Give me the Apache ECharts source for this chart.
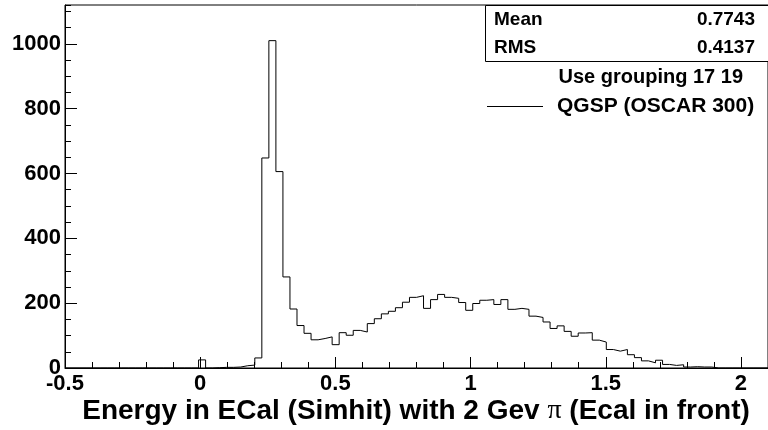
<!DOCTYPE html>
<html>
<head>
<meta charset="utf-8">
<script src="https://cdn.jsdelivr.net/npm/echarts@6/dist/echarts.min.js"></script>
<style>
  html, body { margin: 0; padding: 0; background: #fff; }
  #chart { width: 768px; height: 430px; }
</style>
</head>
<body>
<div id="chart"></div>
<script>
// Histogram binning: 100 bins from -0.5 to 2.1
const binLow = -0.5;
const binHigh = 2.1;
const binWidth = 0.026;

// Entries per bin
const counts = [
  0, 0, 0, 0, 0, 0, 0, 0, 0, 0,
  0, 0, 0, 0, 0, 0, 0, 0, 0, 25,
  0, 1, 2, 2, 3, 7, 9, 31, 648, 1010,
  606, 281, 182, 131, 107, 87, 91, 96, 72, 109,
  101, 116, 111, 137, 152, 167, 175, 186, 203, 218,
  223, 184, 211, 227, 218, 215, 202, 178, 199, 209,
  211, 196, 211, 181, 184, 181, 160, 156, 142, 122,
  130, 113, 98, 108, 109, 86, 80, 57, 52, 57,
  41, 32, 22, 16, 24, 11, 8, 10, 3, 4,
  3, 3, 0, 0, 0, 0, 0, 0, 0, 0
];

// Axis ticks
const xMajorTicks = [-0.5, 0, 0.5, 1, 1.5, 2];
const xMinorStep = 0.1;
const yMax = 1120;
const yMajorTicks = [0, 200, 400, 600, 800, 1000];
const yMinorStep = 50;

// Texts
const axisTitle = 'Energy in ECal (Simhit) with 2 Gev ';
const axisTitleTail = ' (Ecal in front)';
const statLabels = ['Mean', 'RMS'];
const statValues = ['0.7743', '0.4137'];
const noteText = 'Use grouping 17 19';
const seriesName = 'QGSP (OSCAR 300)';

const FONT = '"Liberation Sans", Arial, Helvetica, sans-serif';

// Step outline: each point sits on a bin's low edge
const points = counts.map((c, k) => [binLow + k * binWidth, c]);
points.push([binLow + counts.length * binWidth, 0]);

const chart = echarts.init(document.getElementById('chart'), null, { renderer: 'canvas' });

const tickLabelStyle = {
  color: '#000', fontFamily: FONT, fontWeight: 'bold', fontSize: 22,
  formatter: v => String(v)
};

chart.setOption({
  animation: false,
  backgroundColor: '#fff',
  grid: {
    left: 65, top: 5, width: 704, height: 363,
    show: true, borderColor: '#000', borderWidth: 1, backgroundColor: 'transparent'
  },
  xAxis: [
    {
      type: 'value', min: binLow, max: binHigh, position: 'bottom',
      axisLine: { show: true, onZero: false, lineStyle: { color: '#000', width: 1 } },
      axisTick: { show: true, inside: true, length: 11, customValues: xMajorTicks, lineStyle: { color: '#000' } },
      axisLabel: { show: true, customValues: xMajorTicks, margin: 5, ...tickLabelStyle },
      splitLine: { show: false }
    },
    {
      type: 'value', min: binLow, max: binHigh, interval: xMinorStep, position: 'bottom',
      axisLine: { show: false, onZero: false },
      axisTick: { show: true, inside: true, length: 6, lineStyle: { color: '#000' } },
      axisLabel: { show: false },
      splitLine: { show: false }
    }
  ],
  yAxis: [
    {
      type: 'value', min: 0, max: yMax, position: 'left',
      axisLine: { show: true, onZero: false, lineStyle: { color: '#000', width: 1 } },
      axisTick: { show: true, inside: true, length: 12, customValues: yMajorTicks, lineStyle: { color: '#000' } },
      axisLabel: { show: true, customValues: yMajorTicks, margin: 4, ...tickLabelStyle },
      splitLine: { show: false }
    },
    {
      type: 'value', min: 0, max: yMax, interval: yMinorStep, position: 'left',
      axisLine: { show: false, onZero: false },
      axisTick: { show: true, inside: true, length: 6, lineStyle: { color: '#000' } },
      axisLabel: { show: false },
      splitLine: { show: false }
    }
  ],
  series: [
    {
      name: seriesName,
      type: 'line',
      step: 'end',
      xAxisIndex: 0,
      yAxisIndex: 0,
      data: points,
      symbol: 'none',
      lineStyle: { color: '#000', width: 1 },
      z: 5
    }
  ],
  graphic: [
    // statistics box
    {
      type: 'rect', z: 10,
      shape: { x: 485.5, y: 5.5, width: 290, height: 56 },
      style: { fill: '#fff', stroke: '#000', lineWidth: 1 }
    },
    {
      type: 'text', z: 11, x: 494, y: 20,
      style: { text: statLabels[0], fill: '#000', font: 'bold 19px ' + FONT, verticalAlign: 'middle' }
    },
    {
      type: 'text', z: 11, x: 494, y: 48,
      style: { text: statLabels[1], fill: '#000', font: 'bold 19px ' + FONT, verticalAlign: 'middle' }
    },
    {
      type: 'text', z: 11, x: 755, y: 20,
      style: { text: statValues[0], fill: '#000', font: 'bold 19px ' + FONT, align: 'right', verticalAlign: 'middle' }
    },
    {
      type: 'text', z: 11, x: 755, y: 48,
      style: { text: statValues[1], fill: '#000', font: 'bold 19px ' + FONT, align: 'right', verticalAlign: 'middle' }
    },
    // note and legend
    {
      type: 'text', z: 11, x: 743, y: 77,
      style: { text: noteText, fill: '#000', font: 'bold 20px ' + FONT, align: 'right', verticalAlign: 'middle' }
    },
    {
      type: 'line', z: 11,
      shape: { x1: 487, y1: 106.5, x2: 543, y2: 106.5 },
      style: { stroke: '#000', lineWidth: 1 }
    },
    {
      type: 'text', z: 11, x: 557, y: 106,
      style: { text: seriesName, fill: '#000', font: 'bold 21px ' + FONT, verticalAlign: 'middle' }
    },
    // x-axis title
    {
      type: 'text', z: 11, x: 416, y: 411,
      style: {
        text: '{a|' + axisTitle + '}{p|π}{a|' + axisTitleTail + '}',
        align: 'center', verticalAlign: 'middle',
        rich: {
          a: { fill: '#000', fontFamily: FONT, fontWeight: 'bold', fontSize: 28 },
          p: { fill: '#000', fontFamily: '"Liberation Serif", "DejaVu Serif", serif', fontWeight: 'normal', fontSize: 28 }
        }
      }
    }
  ]
});
</script>
</body>
</html>
